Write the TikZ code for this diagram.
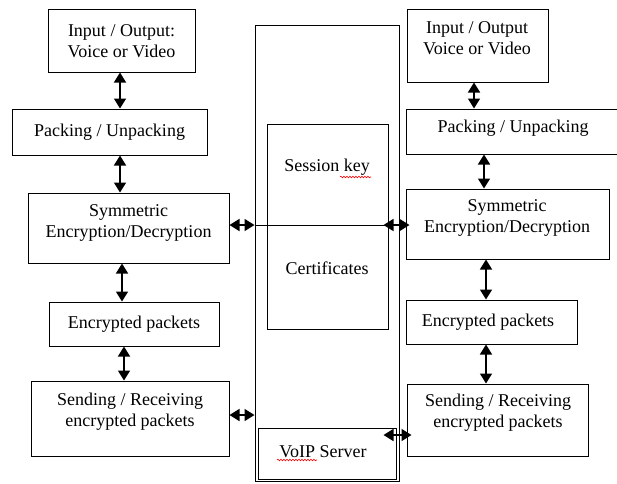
\documentclass[tikz,border=0pt]{standalone}
\usepackage{fontspec}
\setmainfont{Liberation Serif}
\usetikzlibrary{arrows.meta,decorations.pathmorphing}
\begin{document}
\begin{tikzpicture}[x=1pt,y=-1pt,
  box/.style={draw, line width=1pt, inner sep=0pt},
  txt/.style={align=center, font=\fontsize{18}{21}\selectfont, inner sep=0pt},
  arr/.style={line width=1.6pt, {Triangle[width=12pt,length=10pt]}-{Triangle[width=12pt,length=10pt]}},
  squig/.style={red, line width=0.6pt, decorate, decoration={snake, amplitude=0.8pt, segment length=3pt}}]
\useasboundingbox (0,0) rectangle (617,483);
\fill[white] (0,0) rectangle (617,483);
% left column
\node[box, minimum width=147pt, minimum height=63pt] (l1) at (121.5,40.5) {};
\node[box, minimum width=195pt, minimum height=46pt] (l2) at (109.5,132) {};
\node[box, minimum width=201pt, minimum height=70pt] (l3) at (128.5,228) {};
\node[box, minimum width=170pt, minimum height=44pt] (l4) at (134,324) {};
\node[box, minimum width=198pt, minimum height=75pt] (l5) at (130,418.5) {};
\node[txt] (tl1) at (121.5,41) {Input / Output:\\Voice or Video};
\node[txt] (tl2) at (109.5,132) {Packing / Unpacking};
\node[txt] (tl3) at (128.5,223) {Symmetric\\Encryption/Decryption};
\node[txt] (tl4) at (134,324) {Encrypted packets};
\node[txt] (tl5) at (130,411.5) {Sending / Receiving\\encrypted packets};
% center
\node[box, minimum width=144pt, minimum height=456pt] (big) at (327,253) {};
\node[box, minimum width=121pt, minimum height=205pt] (inner) at (327.5,226.5) {};
\node[box, minimum width=138pt, minimum height=51pt] (voip) at (327,453.5) {};
\coordinate (div) at (0,225);
\draw[line width=1pt] (big.west |- div) -- (inner.east |- div);
\node[txt] (tsk) at (327,167) {Session key};
\node[txt] (tcert) at (327,268) {Certificates};
\node[txt] (tvoip) at (323,452) {VoIP Server};
\draw[squig] (340,177) -- (371,177);
\draw[squig] (277,460) -- (317,460);
% right column
\node[box, minimum width=141pt, minimum height=73pt] (r1) at (477.5,45.5) {};
\node[box, minimum width=214pt, minimum height=45pt] (r2) at (513,131.5) {};
\node[box, minimum width=203pt, minimum height=70pt] (r3) at (507.5,224) {};
\node[box, minimum width=171pt, minimum height=44pt] (r4) at (491.5,322) {};
\node[box, minimum width=181pt, minimum height=72pt] (r5) at (497.5,420) {};
\node[txt] (tr1) at (477,38) {Input / Output\\Voice or Video};
\node[txt] (tr2) at (513,128) {Packing / Unpacking};
\node[txt] (tr3) at (507,218) {Symmetric\\Encryption/Decryption};
\node[txt] (tr4) at (488,322) {Encrypted packets};
\node[txt] (tr5) at (498,413) {Sending / Receiving\\encrypted packets};
% vertical arrows
\draw[arr] ([xshift=-1.5pt]l1.south) -- ([xshift=-1.5pt]l1.south |- l2.north);
\draw[arr] ([xshift=10.5pt]l2.south) -- ([xshift=10.5pt]l2.south |- l3.north);
\draw[arr] ([xshift=-6.5pt]l3.south) -- ([xshift=-6.5pt]l3.south |- l4.north);
\draw[arr] ([xshift=-10pt]l4.south) -- ([xshift=-10pt]l4.south |- l5.north);
\draw[arr] ([xshift=-3.5pt]r1.south) -- ([xshift=-3.5pt]r1.south |- r2.north);
\draw[arr] ([xshift=-29pt]r2.south) -- ([xshift=-29pt]r2.south |- r3.north);
\draw[arr] ([xshift=-21.5pt]r3.south) -- ([xshift=-21.5pt]r3.south |- r4.north);
\draw[arr] ([xshift=-5.5pt]r4.south) -- ([xshift=-5.5pt]r4.south |- r5.north);
% horizontal arrows
\draw[arr] ([yshift=3pt]l3.east) -- ([yshift=3pt]l3.east -| big.west);
\draw[arr] ([yshift=3.5pt]l5.east) -- ([yshift=3.5pt]l5.east -| big.west);
\draw[arr, shorten <=-5pt, shorten >=-4pt] ([yshift=-1pt]r3.west -| inner.east) -- ([yshift=-1pt]r3.west);
\draw[arr, shorten <=-13pt, shorten >=-5pt] ([yshift=-15pt]r5.west -| voip.east) -- ([yshift=-15pt]r5.west);
\end{tikzpicture}
\end{document}
